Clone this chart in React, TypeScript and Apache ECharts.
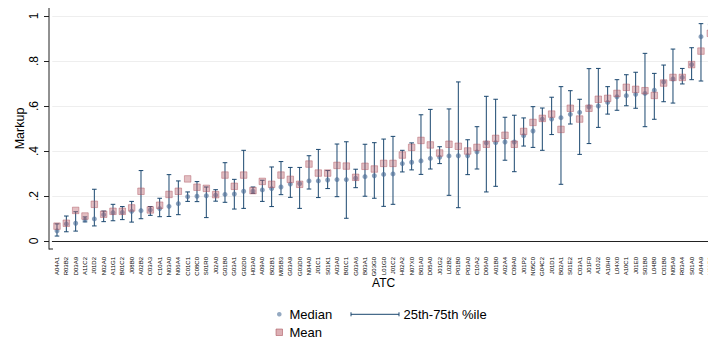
import React, { useEffect, useRef } from 'react';
import * as echarts from 'echarts';

// ATC groups, ordered by median markup
const categories = [
  'A04A1', 'R03B2', 'D03A9', 'A11C2', 'J01D2', 'N02A0', 'A11G1', 'B01C2', 'J08B0', 'A02B2',
  'C03A3', 'C10A1', 'N03A0', 'N06A4', 'C01C1', 'C08C0', 'S01R0', 'J02A0', 'G01B0', 'G03A1',
  'G02D0', 'H03A0', 'A09A0', 'B02B1', 'M05B3', 'G03A9', 'G03D0', 'N04A0', 'J01C1', 'S01K1',
  'A03A0', 'B01C1', 'G03A6', 'B03A1', 'G03G0', 'L01G0', 'J01C2', 'H02A2', 'N07X0', 'B01A0',
  'D05A0', 'J01G2', 'L02B2', 'P01B0', 'P03A0', 'C10A2', 'D06A0', 'A01B0', 'A02A4', 'C09A0',
  'J01P2', 'N05C0', 'G04C2', 'J01D1', 'B02A1', 'S01E2', 'C03A1', 'J01F0', 'A10J2', 'A10H0',
  'L04X0', 'A10C1', 'J01E0', 'S01B0', 'L04B0', 'C01B0', 'N05A9', 'R03A4', 'S01A0', 'A04A9',
  'H01B0',
];

const medians = [
  0.045, 0.076, 0.079, 0.094, 0.098, 0.117, 0.126, 0.127, 0.132, 0.135,
  0.138, 0.144, 0.154, 0.166, 0.197, 0.199, 0.201, 0.204, 0.207, 0.209,
  0.221, 0.222, 0.227, 0.233, 0.240, 0.253, 0.255, 0.267, 0.267, 0.271,
  0.273, 0.273, 0.279, 0.286, 0.290, 0.296, 0.298, 0.344, 0.350, 0.356,
  0.367, 0.372, 0.378, 0.379, 0.379, 0.396, 0.436, 0.437, 0.440, 0.440,
  0.468, 0.489, 0.542, 0.542, 0.548, 0.563, 0.572, 0.596, 0.600, 0.616,
  0.641, 0.646, 0.652, 0.656, 0.670, 0.707, 0.720, 0.727, 0.784, 0.908,
  0.962,
];

const means = [
  0.066, 0.079, 0.136, 0.111, 0.163, 0.119, 0.132, 0.132, 0.147, 0.221,
  0.138, 0.159, 0.207, 0.221, 0.276, 0.239, 0.234, 0.206, 0.293, 0.243,
  0.293, 0.224, 0.265, 0.252, 0.293, 0.274, 0.252, 0.342, 0.302, 0.302,
  0.336, 0.333, 0.283, 0.332, 0.320, 0.345, 0.345, 0.382, 0.416, 0.447,
  0.427, 0.391, 0.430, 0.421, 0.400, 0.416, 0.430, 0.456, 0.470, 0.430,
  0.487, 0.527, 0.545, 0.564, 0.496, 0.590, 0.542, 0.590, 0.630, 0.634,
  0.656, 0.683, 0.674, 0.668, 0.647, 0.702, 0.727, 0.727, 0.784, 0.844,
  0.923,
];

const p25 = [
  0.022, 0.041, 0.044, 0.085, 0.067, 0.086, 0.090, 0.095, 0.084, 0.099,
  0.114, 0.108, 0.109, 0.117, 0.176, 0.175, 0.104, 0.177, 0.172, 0.142,
  0.145, 0.212, 0.176, 0.153, 0.206, 0.194, 0.145, 0.231, 0.193, 0.233,
  0.197, 0.101, 0.237, 0.199, 0.190, 0.154, 0.163, 0.307, 0.316, 0.296,
  0.320, 0.344, 0.203, 0.148, 0.295, 0.320, 0.218, 0.243, 0.359, 0.308,
  0.422, 0.416, 0.403, 0.473, 0.252, 0.520, 0.385, 0.433, 0.505, 0.564,
  0.581, 0.601, 0.590, 0.508, 0.541, 0.619, 0.613, 0.698, 0.717, 0.711,
  0.860,
];

const p75 = [
  0.076, 0.111, 0.130, 0.107, 0.230, 0.133, 0.163, 0.153, 0.176, 0.313,
  0.153, 0.190, 0.295, 0.267, 0.218, 0.264, 0.240, 0.228, 0.348, 0.274,
  0.403, 0.240, 0.270, 0.329, 0.353, 0.327, 0.327, 0.379, 0.407, 0.313,
  0.431, 0.441, 0.319, 0.430, 0.437, 0.453, 0.465, 0.403, 0.436, 0.561,
  0.585, 0.419, 0.587, 0.707, 0.450, 0.508, 0.643, 0.630, 0.550, 0.559,
  0.547, 0.597, 0.591, 0.639, 0.686, 0.668, 0.630, 0.766, 0.767, 0.686,
  0.717, 0.739, 0.750, 0.834, 0.745, 0.782, 0.853, 0.767, 0.859, 0.966,
  0.990,
];

const yTickLabels = ['0', '.2', '.4', '.6', '.8', '1'];

const NAVY = '#1a476f';
const MEDIAN_COLOR = '#4d6f98';
const MEAN_FILL = 'rgba(185,95,105,0.5)';
const MEAN_EDGE = 'rgba(170,80,90,0.55)';
const AXIS_COLOR = '#222';
const FONT = '"Liberation Sans", Arial, sans-serif';

export default function App() {
  const ref = useRef<HTMLDivElement>(null);

  useEffect(() => {
    if (!ref.current) return;
    const chart = echarts.init(ref.current, null, { renderer: 'svg' });
    const band = 9.333;
    const gridLeft = 52.33;

    chart.setOption({
      animation: false,
      textStyle: { fontFamily: FONT },
      grid: { left: gridLeft, top: 16, width: band * categories.length, height: 225 },
      xAxis: {
        type: 'category',
        data: categories,
        boundaryGap: true,
        offset: 8,
        name: 'ATC',
        nameLocation: 'middle',
        nameGap: 28,
        nameMoveOverlap: false,
        nameTextStyle: { fontSize: 12, color: '#000', fontFamily: FONT },
        axisLine: { lineStyle: { color: AXIS_COLOR, width: 1 } },
        axisTick: { alignWithLabel: true, length: 5, lineStyle: { color: AXIS_COLOR } },
        axisLabel: { interval: 0, rotate: 90, fontSize: 6, margin: 8, color: '#000', fontFamily: FONT },
        splitLine: { show: false },
      },
      yAxis: {
        type: 'value',
        min: 0,
        max: 1,
        interval: 0.2,
        offset: 3.33,
        name: 'Markup',
        nameLocation: 'middle',
        nameRotate: 90,
        nameGap: 23,
        nameMoveOverlap: false,
        nameTextStyle: { fontSize: 12.5, color: '#000', fontFamily: FONT },
        axisLine: { show: false },
        axisTick: { show: true, length: 5, lineStyle: { color: AXIS_COLOR } },
        axisLabel: {
          rotate: 90,
          margin: 9,
          fontSize: 12,
          color: '#000',
          fontFamily: FONT,
          formatter: (v: number) => yTickLabels[Math.round(v * 5)] ?? '',
        },
        splitLine: { show: true, lineStyle: { color: '#eeeeee', width: 1 } },
      },
      series: [
        {
          name: '25th-75th %ile',
          type: 'custom',
          z: 2,
          data: categories.map((_, i) => [i, p25[i], p75[i]]),
          encode: { x: 0, y: [1, 2] },
          renderItem: (_params: any, api: any) => {
            const i = api.value(0);
            const lo = api.coord([i, api.value(1)]);
            const hi = api.coord([i, api.value(2)]);
            const hw = 2.3;
            const style = { stroke: NAVY, lineWidth: 1 };
            return {
              type: 'group',
              children: [
                { type: 'line', shape: { x1: lo[0], y1: lo[1], x2: hi[0], y2: hi[1] }, style },
                { type: 'line', shape: { x1: lo[0] - hw, y1: lo[1], x2: lo[0] + hw, y2: lo[1] }, style },
                { type: 'line', shape: { x1: hi[0] - hw, y1: hi[1], x2: hi[0] + hw, y2: hi[1] }, style },
              ],
            };
          },
        },
        {
          name: 'Median',
          type: 'scatter',
          z: 3,
          data: medians,
          symbol: 'circle',
          symbolSize: 5,
          itemStyle: { color: MEDIAN_COLOR, opacity: 0.65 },
        },
        {
          name: 'Mean',
          type: 'scatter',
          z: 4,
          data: means,
          symbol: 'rect',
          symbolSize: 6.5,
          itemStyle: { color: MEAN_FILL, borderColor: MEAN_EDGE, borderWidth: 1 },
        },
      ],
      graphic: [
        // y axis line spanning the full plot region
        { type: 'line', shape: { x1: 49, y1: 8, x2: 49, y2: 249.5 }, style: { stroke: AXIS_COLOR, lineWidth: 1 } },
        { type: 'line', shape: { x1: 49, y1: 249, x2: 53, y2: 249 }, style: { stroke: AXIS_COLOR, lineWidth: 1 } },
        // legend
        { type: 'circle', shape: { cx: 279.3, cy: 314.3, r: 2.3 }, style: { fill: MEDIAN_COLOR, opacity: 0.6 } },
        {
          type: 'text', x: 289.5, y: 314.3,
          style: { text: 'Median', font: `13px ${FONT}`, fill: '#000', verticalAlign: 'middle', align: 'left' },
        },
        { type: 'line', shape: { x1: 351, y1: 314.3, x2: 399, y2: 314.3 }, style: { stroke: NAVY, lineWidth: 1 } },
        { type: 'line', shape: { x1: 351, y1: 312.3, x2: 351, y2: 316.3 }, style: { stroke: NAVY, lineWidth: 1 } },
        { type: 'line', shape: { x1: 399, y1: 312.3, x2: 399, y2: 316.3 }, style: { stroke: NAVY, lineWidth: 1 } },
        {
          type: 'text', x: 403.5, y: 314.3,
          style: { text: '25th-75th %ile', font: `13px ${FONT}`, fill: '#000', verticalAlign: 'middle', align: 'left' },
        },
        {
          type: 'rect', shape: { x: 276, y: 329, width: 6.5, height: 6.5 },
          style: { fill: MEAN_FILL, stroke: MEAN_EDGE, lineWidth: 1 },
        },
        {
          type: 'text', x: 289.5, y: 332.3,
          style: { text: 'Mean', font: `13px ${FONT}`, fill: '#000', verticalAlign: 'middle', align: 'left' },
        },
      ],
    });

    return () => chart.dispose();
  }, []);

  // The chart canvas is wider than the visible frame so the plot runs past its right edge.
  return (
    <div style={{ position: 'fixed', left: 0, top: 0, width: 708, height: 342, overflow: 'hidden', background: '#fff' }}>
      <div ref={ref} style={{ width: 730, height: 342 }} />
    </div>
  );
}
